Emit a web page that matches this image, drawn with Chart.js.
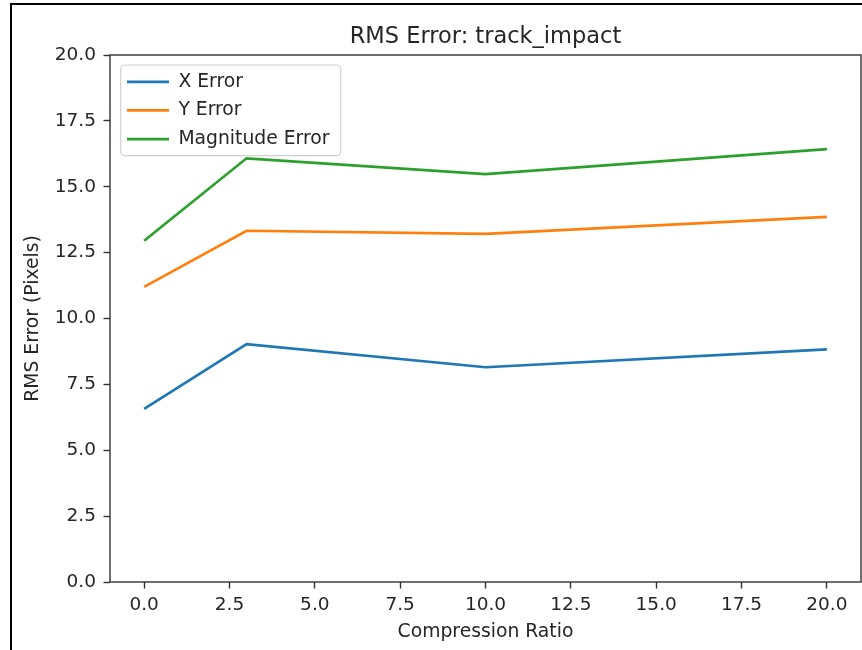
<!DOCTYPE html>
<html>
<head>
<meta charset="utf-8">
<script src="https://cdn.jsdelivr.net/npm/chart.js@4.4.1/dist/chart.umd.min.js"></script>
<style>
  html, body { margin: 0; padding: 0; background: #fff; }
  #wrap { position: relative; width: 862px; height: 650px; overflow: hidden; }
  #wrap canvas { position: absolute; left: 0; top: 0; }
  #frame { position: absolute; left: 10px; top: 3px; right: -10px; bottom: -10px;
           border-left: 2px solid #000; border-top: 2px solid #000; pointer-events: none; }
</style>
</head>
<body>
<div id="wrap">
  <canvas id="chart" width="862" height="650"></canvas>
  <div id="frame"></div>
</div>
<script>
// Compression ratios tested and the RMS error of each tracked component
const compressionRatios = [0, 3, 10, 20];
const xError = [6.57, 9.03, 8.15, 8.83];
const yError = [11.20, 13.33, 13.21, 13.86];
const magnitudeError = [12.95, 16.08, 15.48, 16.43];
const seriesNames = ['X Error', 'Y Error', 'Magnitude Error'];
const xTickValues = [0, 2.5, 5, 7.5, 10, 12.5, 15, 17.5, 20];
const yTickValues = [0, 2.5, 5, 7.5, 10, 12.5, 15, 17.5, 20];

const FONT = 'DejaVu Sans';
const TEXT = '#262626';
const SPINE = '#333333';
const COLORS = ['#1f77b4', '#ff7f0e', '#2ca02c'];

const toPoints = ys => compressionRatios.map((x, i) => ({ x: x, y: ys[i] }));
const seriesValues = [xError, yError, magnitudeError];

const datasets = seriesNames.map((name, i) => ({
  label: name,
  data: toPoints(seriesValues[i]),
  borderColor: COLORS[i],
  backgroundColor: COLORS[i],
  borderWidth: 2.7,
  pointRadius: 0,
  pointHoverRadius: 0,
  tension: 0,
  fill: false
}));

// Places the title over the plot area, nudges the legend, draws the legend frame and axes box
const layoutTweaks = {
  id: 'layoutTweaks',
  afterLayout(chart) {
    const ca = chart.chartArea;
    if (chart.titleBlock) {
      chart.titleBlock.left = ca.left;
      chart.titleBlock.right = ca.right;
    }
    if (chart.legend) {
      chart.legend.left = ca.left + 7.1;
      chart.legend.top = ca.top + 7.5;
    }
  },
  beforeDraw(chart) {
    const ca = chart.chartArea;
    const ctx = chart.ctx;
    ctx.save();
    ctx.beginPath();
    ctx.roundRect(ca.left + 10.7, ca.top + 10, 220, 90.7, 4);
    ctx.fillStyle = 'rgba(255,255,255,0.8)';
    ctx.fill();
    ctx.lineWidth = 1.2;
    ctx.strokeStyle = '#d0d0d0';
    ctx.stroke();
    ctx.restore();
  },
  afterDraw(chart) {
    const ca = chart.chartArea;
    const ctx = chart.ctx;
    ctx.save();
    ctx.lineWidth = 1.4;
    ctx.strokeStyle = SPINE;
    ctx.strokeRect(ca.left, ca.top, ca.right - ca.left, ca.bottom - ca.top);
    ctx.restore();
  }
};

const tickFont = { family: FONT, size: 18.5 };

new Chart(document.getElementById('chart'), {
  type: 'line',
  data: { datasets: datasets },
  plugins: [layoutTweaks],
  options: {
    responsive: false,
    animation: false,
    devicePixelRatio: 1,
    layout: { padding: { left: 12, right: 1, top: 0, bottom: 0 } },
    plugins: {
      title: {
        display: true,
        text: 'RMS Error: track_impact',
        color: TEXT,
        font: { family: FONT, size: 22.5, weight: 'normal' },
        padding: { top: 23.2, bottom: 4.8 }
      },
      legend: {
        position: 'chartArea',
        align: 'start',
        labels: {
          color: TEXT,
          font: { family: FONT, size: 18.75 },
          usePointStyle: true,
          pointStyle: 'line',
          pointStyleWidth: 42,
          padding: 9.9
        }
      },
      tooltip: { enabled: false }
    },
    scales: {
      x: {
        type: 'linear',
        min: -1,
        max: 21,
        afterBuildTicks: s => { s.ticks = xTickValues.map(v => ({ value: v })); },
        afterFit: s => { s.height = 68; },
        border: { display: false },
        grid: { drawOnChartArea: false, drawTicks: true, tickLength: 6.5, tickWidth: 1.4, tickColor: SPINE },
        ticks: { color: TEXT, font: tickFont, padding: 6, maxRotation: 0, autoSkip: false,
                 callback: v => Number(v).toFixed(1) },
        title: { display: true, text: 'Compression Ratio', color: TEXT,
                 font: { family: FONT, size: 18.75 }, padding: { top: 0, bottom: 6.5 } }
      },
      y: {
        type: 'linear',
        min: 0,
        max: 20,
        afterBuildTicks: s => { s.ticks = yTickValues.map(v => ({ value: v })); },
        afterFit: s => { s.width = 98; },
        border: { display: false },
        grid: { drawOnChartArea: false, drawTicks: true, tickLength: 6.5, tickWidth: 1.4, tickColor: SPINE },
        ticks: { color: TEXT, font: tickFont, padding: 7.5, autoSkip: false,
                 callback: v => Number(v).toFixed(1) },
        title: { display: true, text: 'RMS Error (Pixels)', color: TEXT,
                 font: { family: FONT, size: 18.75 }, padding: { top: 10, bottom: 0 } }
      }
    }
  }
});
</script>
</body>
</html>
